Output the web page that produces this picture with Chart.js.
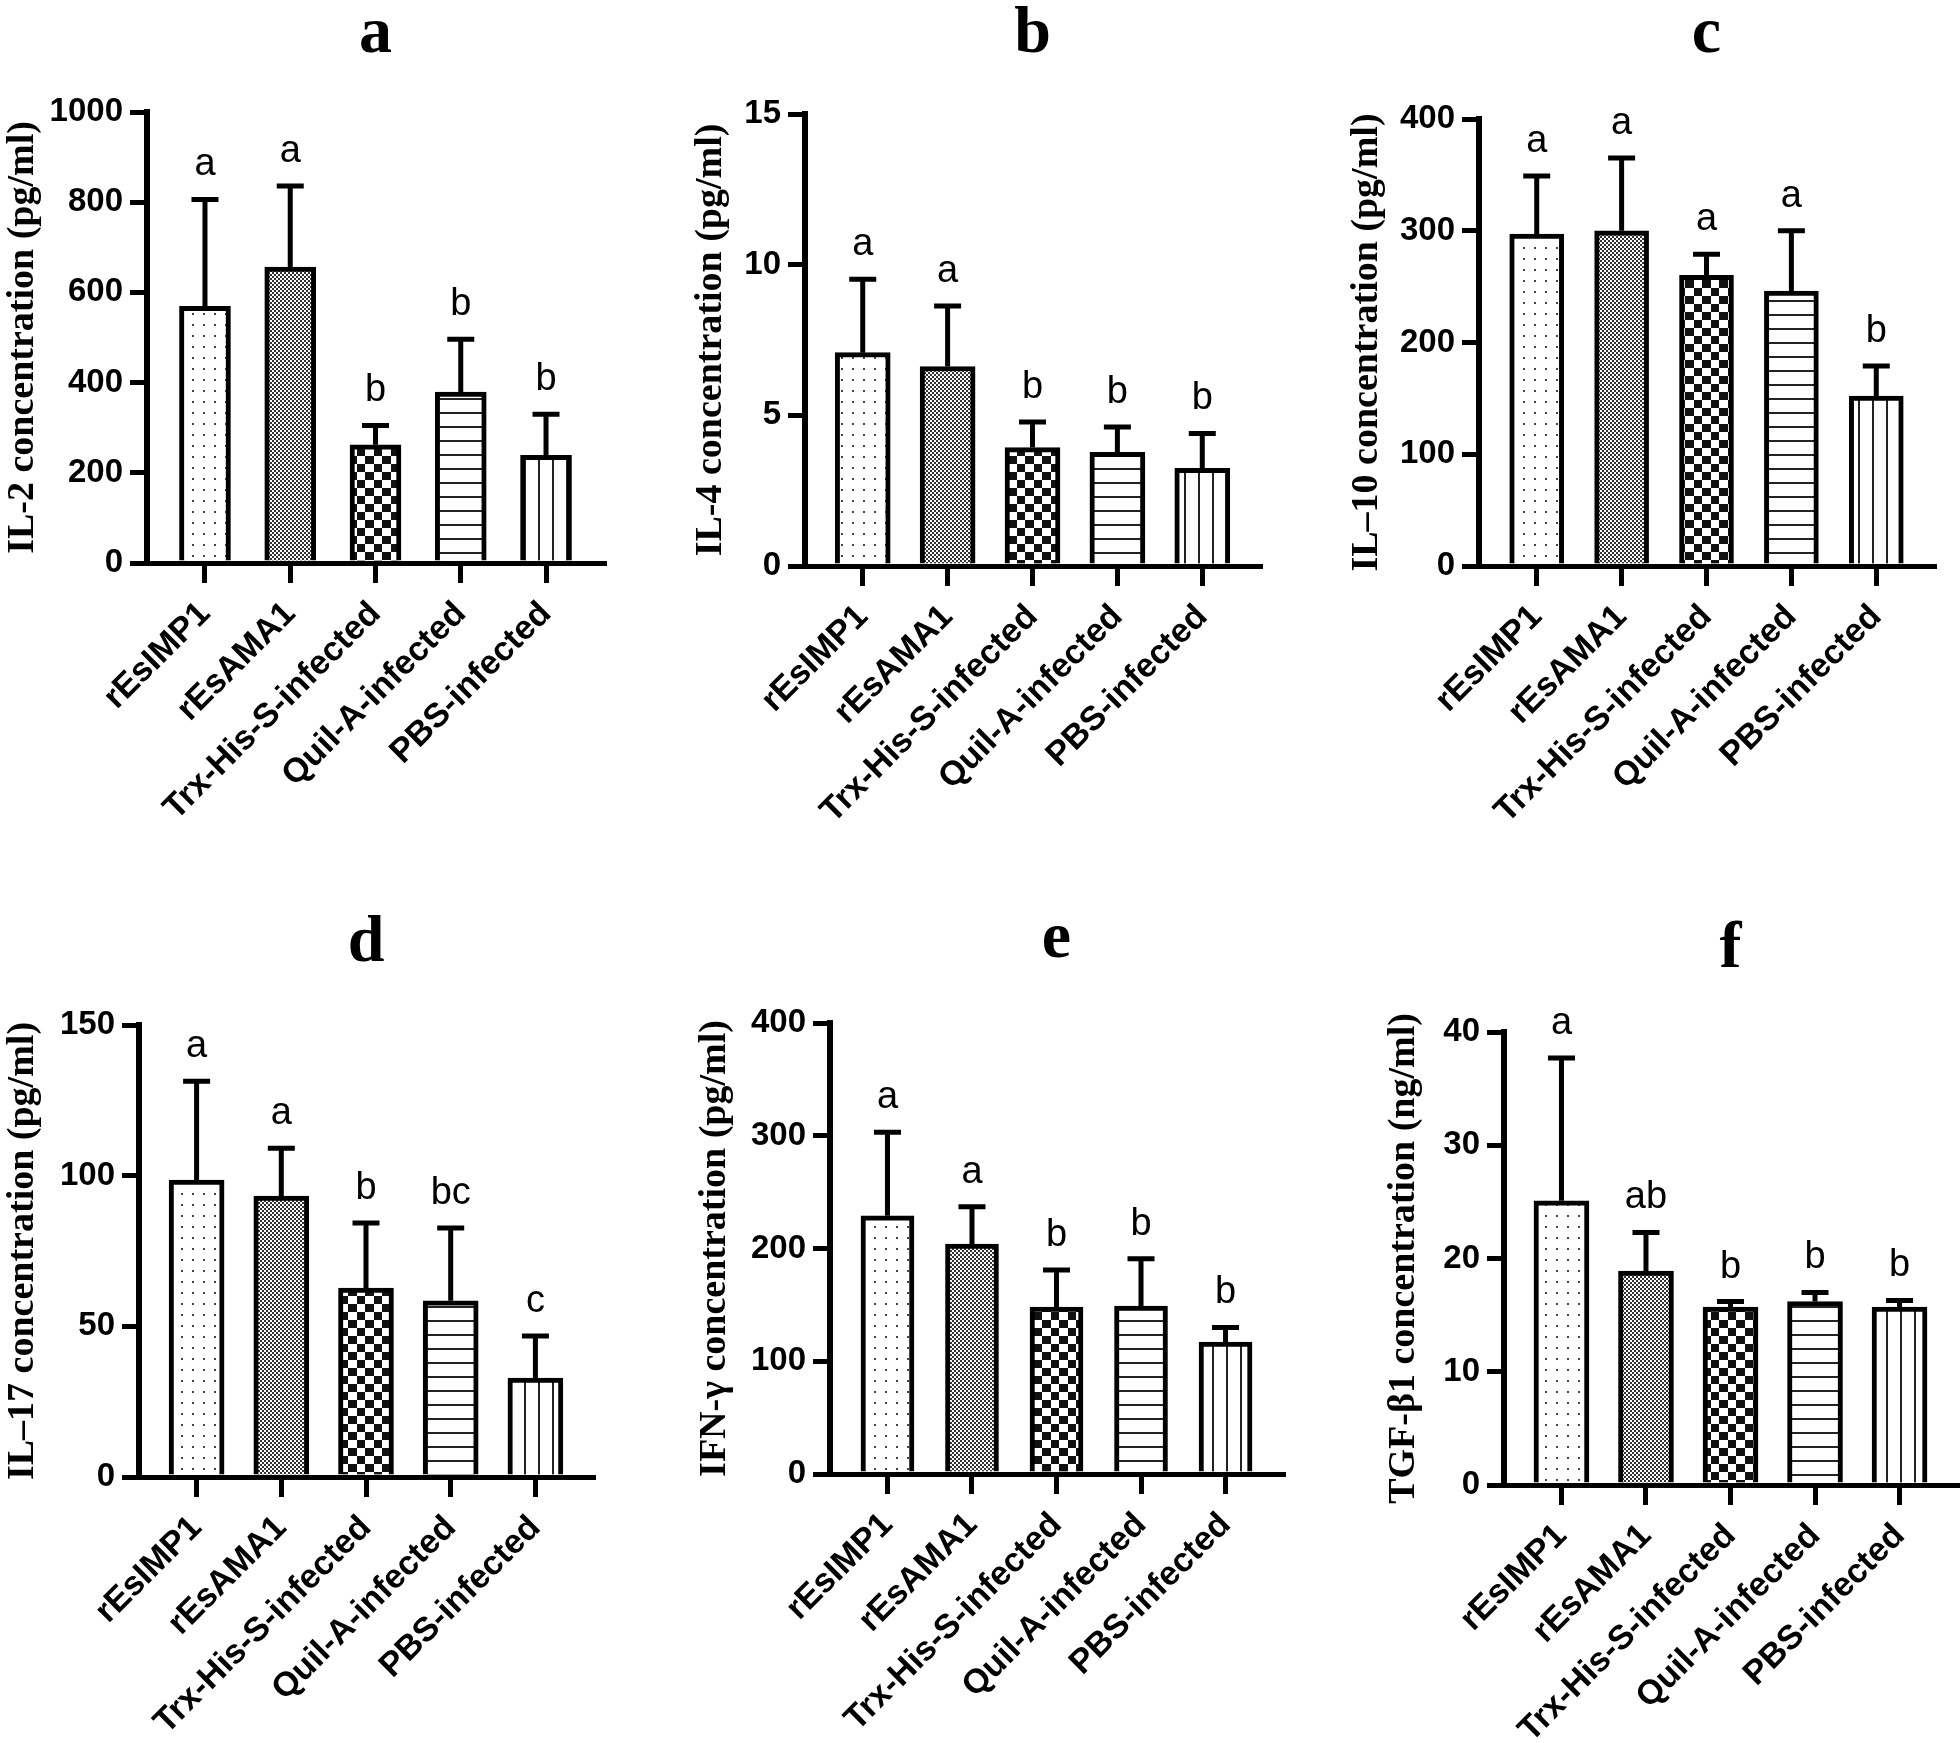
<!DOCTYPE html>
<html>
<head>
<meta charset="utf-8">
<script src="https://cdn.jsdelivr.net/npm/chart.js@4.4.1/dist/chart.umd.min.js"></script>
<style>
  html, body { margin: 0; padding: 0; background: #fff; }
  #fig { position: relative; width: 1960px; height: 1743px; overflow: hidden; background: #fff; }
  #fig canvas { position: absolute; }
</style>
</head>
<body>
<div id="fig"></div>
<script>
// groups on the x axis (same for every panel)
const groups = ["rEsIMP1", "rEsAMA1", "Trx-His-S-infected", "Quil-A-infected", "PBS-infected"];

// a: IL-2
const il2Mean = [569, 656, 262, 379, 239];
const il2Upper = [806, 836, 305, 496, 330];
const il2Letters = ["a", "a", "b", "b", "b"];
const il2Ticks = [0, 200, 400, 600, 800, 1000];

// b: IL-4
const il4Mean = [7.08, 6.62, 3.93, 3.77, 3.24];
const il4Upper = [9.52, 8.63, 4.78, 4.61, 4.4];
const il4Letters = ["a", "a", "b", "b", "b"];
const il4Ticks = [0, 5, 10, 15];

// c: IL-10
const il10Mean = [297, 300, 260, 246, 152];
const il10Upper = [349, 365, 279, 300, 179];
const il10Letters = ["a", "a", "a", "a", "b"];
const il10Ticks = [0, 100, 200, 300, 400];

// d: IL-17
const il17Mean = [98.5, 93.2, 62.7, 58.5, 32.8];
const il17Upper = [131.3, 109.1, 84.3, 82.6, 46.8];
const il17Letters = ["a", "a", "b", "bc", "c"];
const il17Ticks = [0, 50, 100, 150];

// e: IFN-gamma
const ifnMean = [229, 204, 148, 149, 117];
const ifnUpper = [303, 237, 181, 191, 130];
const ifnLetters = ["a", "a", "b", "b", "b"];
const ifnTicks = [0, 100, 200, 300, 400];

// f: TGF-beta1
const tgfMean = [25.1, 18.9, 15.7, 16.2, 15.7];
const tgfUpper = [37.7, 22.3, 16.2, 17.0, 16.3];
const tgfLetters = ["a", "ab", "b", "b", "b"];
const tgfTicks = [0, 10, 20, 30, 40];

const panels = [
  { panel: "a", yTitle: "IL-2 concentration (pg/ml)", mean: il2Mean, upper: il2Upper, letters: il2Letters, ticks: il2Ticks },
  { panel: "b", yTitle: "IL-4 concentration (pg/ml)", mean: il4Mean, upper: il4Upper, letters: il4Letters, ticks: il4Ticks },
  { panel: "c", yTitle: "IL\u201310 concentration (pg/ml)", mean: il10Mean, upper: il10Upper, letters: il10Letters, ticks: il10Ticks },
  { panel: "d", yTitle: "IL\u201317 concentration (pg/ml)", mean: il17Mean, upper: il17Upper, letters: il17Letters, ticks: il17Ticks },
  { panel: "e", yTitle: "IFN-\u03b3 concentration (pg/ml)", mean: ifnMean, upper: ifnUpper, letters: ifnLetters, ticks: ifnTicks },
  { panel: "f", yTitle: "TGF-\u03b21 concentration (ng/ml)", mean: tgfMean, upper: tgfUpper, letters: tgfLetters, ticks: tgfTicks }
];

// page geometry of each panel (canvas box, plot box, y title centre, panel letter baseline)
const frames = [
  { left: 0,    top: 0,   w: 660, h: 880, plotL: 147,  plotT: 112,  plotR: 604,  plotB: 563,  titleCx: 23,   letterY: 52,  barW: 51 },
  { left: 660,  top: 0,   w: 660, h: 880, plotL: 805,  plotT: 114,  plotR: 1260, plotB: 566,  titleCx: 711,  letterY: 52,  barW: 55 },
  { left: 1320, top: 0,   w: 640, h: 880, plotL: 1479, plotT: 119,  plotR: 1934, plotB: 566,  titleCx: 1367, letterY: 52,  barW: 54 },
  { left: 0,    top: 880, w: 660, h: 863, plotL: 139,  plotT: 1025, plotR: 593,  plotB: 1477, titleCx: 23,   letterY: 961, barW: 55 },
  { left: 660,  top: 880, w: 660, h: 863, plotL: 830,  plotT: 1023, plotR: 1283, plotB: 1474, titleCx: 715,  letterY: 957, barW: 53 },
  { left: 1320, top: 880, w: 640, h: 863, plotL: 1504, plotT: 1032, plotR: 1957, plotB: 1485, titleCx: 1404, letterY: 967, barW: 55 }
];
const xMin = -0.68;
const xMax = 4.68;

const sans = '"Liberation Sans", Arial, sans-serif';
const serif = '"Liberation Serif", "Times New Roman", serif';

function tile(ctx, w, h, draw) {
  const c = document.createElement("canvas");
  c.width = w;
  c.height = h;
  const g = c.getContext("2d");
  g.fillStyle = "#fff";
  g.fillRect(0, 0, w, h);
  g.fillStyle = "#111";
  draw(g);
  return ctx.createPattern(c, "repeat");
}

function makePatterns(ctx) {
  return [
    // sparse dots
    tile(ctx, 11, 11, (g) => { g.fillStyle = "#444"; g.fillRect(5, 5, 2, 2); }),
    // fine checker
    tile(ctx, 4, 4, (g) => { g.fillStyle = "#333"; g.fillRect(0, 0, 2, 2); g.fillRect(2, 2, 2, 2); }),
    // big checker
    tile(ctx, 17, 16, (g) => { g.fillRect(0, 0, 8, 8); g.fillRect(8, 8, 9, 8); }),
    // horizontal lines
    tile(ctx, 4, 14, (g) => { g.fillStyle = "#222"; g.fillRect(0, 6, 4, 2); }),
    // vertical lines
    tile(ctx, 14, 4, (g) => { g.fillStyle = "#222"; g.fillRect(6, 0, 2, 4); })
  ];
}

function decorFor(p, f) {
  return {
    id: "decor",
    afterDatasetsDraw(chart) {
      const { ctx, chartArea, scales } = chart;
      const bars = chart.getDatasetMeta(0).data;
      ctx.save();
      ctx.strokeStyle = "#000";
      ctx.fillStyle = "#000";
      ctx.lineWidth = 5;
      ctx.textAlign = "center";
      ctx.textBaseline = "alphabetic";
      ctx.font = "38px " + sans;
      bars.forEach((bar, i) => {
        const top = scales.y.getPixelForValue(p.upper[i]);
        ctx.beginPath();
        ctx.moveTo(bar.x, bar.y);
        ctx.lineTo(bar.x, top);
        ctx.moveTo(bar.x - 13.5, top);
        ctx.lineTo(bar.x + 13.5, top);
        ctx.stroke();
        ctx.fillText(p.letters[i], bar.x, top - 24);
      });
      ctx.font = "bold 66px " + serif;
      ctx.fillText(p.panel, (chartArea.left + chartArea.right) / 2, f.letterY - f.top);
      ctx.restore();
    }
  };
}

const fig = document.getElementById("fig");

panels.forEach((p, k) => {
  const f = frames[k];
  const canvas = document.createElement("canvas");
  canvas.width = f.w;
  canvas.height = f.h;
  canvas.style.left = f.left + "px";
  canvas.style.top = f.top + "px";
  fig.appendChild(canvas);
  const ctx = canvas.getContext("2d");

  const yAxisW = f.plotL - f.left;
  const xAxisH = f.top + f.h - f.plotB;

  new Chart(ctx, {
    type: "bar",
    data: {
      datasets: [{
        data: p.mean.map((v, i) => ({ x: i, y: v })),
        backgroundColor: makePatterns(ctx),
        borderColor: "#000",
        borderWidth: 5,
        barThickness: f.barW
      }]
    },
    options: {
      responsive: false,
      animation: false,
      events: [],
      layout: {
        padding: { left: 0, top: f.plotT - f.top, right: f.left + f.w - f.plotR, bottom: 0 }
      },
      plugins: {
        legend: { display: false },
        tooltip: { enabled: false }
      },
      scales: {
        x: {
          type: "linear",
          min: xMin,
          max: xMax,
          bounds: "data",
          offset: false,
          grid: { offset: false, drawOnChartArea: false, color: "#000", lineWidth: 5, tickLength: 20 },
          border: { color: "#000", width: 5 },
          ticks: {
            color: "#000",
            font: { family: sans, weight: "bold", size: 34 },
            minRotation: 45,
            maxRotation: 45,
            autoSkip: false,
            padding: 11,
            callback: (v) => groups[v]
          },
          afterBuildTicks: (s) => { s.ticks = groups.map((g, i) => ({ value: i })); },
          afterFit: (s) => { s.height = xAxisH; }
        },
        y: {
          min: 0,
          max: p.ticks[p.ticks.length - 1],
          bounds: "data",
          grid: { drawOnChartArea: false, color: "#000", lineWidth: 5, tickLength: 17 },
          border: { color: "#000", width: 6 },
          ticks: {
            color: "#000",
            font: { family: sans, weight: "bold", size: 33 },
            padding: 7,
            callback: (v) => String(v)
          },
          afterBuildTicks: (s) => { s.ticks = p.ticks.map((v) => ({ value: v })); },
          title: {
            display: true,
            text: p.yTitle,
            color: "#000",
            font: { family: serif, weight: "bold", size: 38, lineHeight: 1 },
            padding: { top: f.titleCx - f.left - 19, bottom: 0 }
          },
          afterFit: (s) => { s.width = yAxisW; }
        }
      }
    },
    plugins: [decorFor(p, f)]
  });
});
</script>
</body>
</html>
